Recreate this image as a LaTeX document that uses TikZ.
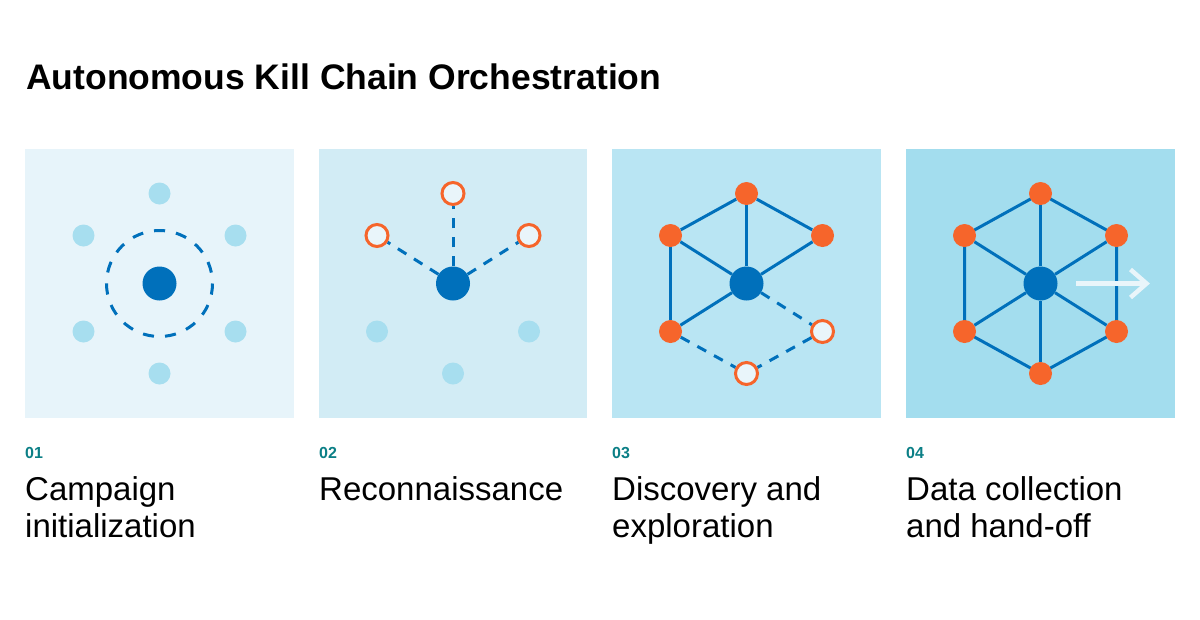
\documentclass[tikz,border=0pt]{standalone}
\usepackage{fontspec}
\setmainfont{Liberation Sans}
\definecolor{dblue}{HTML}{0070BB}
\definecolor{orng}{HTML}{F6652B}
\definecolor{ldot}{HTML}{A7DEEF}
\definecolor{ofill}{HTML}{E9F5FA}
\definecolor{tealnum}{HTML}{0B7F86}
\definecolor{bgA}{HTML}{E7F4FA}
\definecolor{bgB}{HTML}{D2ECF5}
\definecolor{bgC}{HTML}{B9E5F3}
\definecolor{bgD}{HTML}{A3DDEE}
\pgfdeclarelayer{bg}
\pgfdeclarelayer{edges}
\pgfsetlayers{bg,edges,main}
\begin{document}
\begin{tikzpicture}[x=1pt,y=-1pt,
  hub/.style={circle, fill=dblue, inner sep=0pt, minimum size=34pt},
  ghost/.style={circle, fill=ldot, inner sep=0pt, minimum size=22pt},
  hot/.style={circle, fill=orng, inner sep=0pt, minimum size=23pt},
  probe/.style={circle, draw=orng, line width=3pt, fill=ofill, inner sep=0pt, minimum size=22pt},
  link/.style={draw=dblue, line width=3pt},
  scan/.style={draw=dblue, line width=3pt, dash pattern=on 10pt off 9pt},
  ring/.style={draw=dblue, line width=3pt, dash pattern=on 11.1pt off 11.1pt},
  handoff/.style={draw=ofill, line width=4.5pt, miter limit=10},
  titletext/.style={anchor=base west, inner sep=0pt, font=\bfseries\fontsize{35.5}{40}\selectfont},
  numtext/.style={anchor=base west, inner sep=0pt, text=tealnum, font=\bfseries\fontsize{16}{18}\selectfont},
  labtext/.style={anchor=base west, inner sep=0pt, font=\fontsize{33}{38}\selectfont}
]
\useasboundingbox (0,0) rectangle (1200,619);

% background and panels
\begin{pgfonlayer}{bg}
  \fill[white] (0,0) rectangle (1200,619);
  \fill[bgA] (25,149) rectangle (294,418);
  \fill[bgB] (319,149) rectangle (587,418);
  \fill[bgC] (612,149) rectangle (881,418);
  \fill[bgD] (906,149) rectangle (1175,418);
\end{pgfonlayer}

% title
\node[titletext] (title) at (26,89) {Autonomous Kill Chain Orchestration};

% ---------- panel 1 ----------
\begin{scope}[shift={(159.5,283.5)}]
  \node[ghost] (p1t) at (0,-90) {};
  \node[ghost] (p1ul) at (-76,-48) {};
  \node[ghost] (p1ur) at (76,-48) {};
  \node[ghost] (p1ll) at (-76,48) {};
  \node[ghost] (p1lr) at (76,48) {};
  \node[ghost] (p1b) at (0,90) {};
  \node[hub] (p1c) at (0,0) {};
  \draw[ring] (p1c.center) circle[radius=53];
\end{scope}

% ---------- panel 2 ----------
\begin{scope}[shift={(453,283.5)}]
  \node[probe] (p2t) at (0,-90) {};
  \node[probe] (p2ul) at (-76,-48) {};
  \node[probe] (p2ur) at (76,-48) {};
  \node[ghost] (p2ll) at (-76,48) {};
  \node[ghost] (p2lr) at (76,48) {};
  \node[ghost] (p2b) at (0,90) {};
  \node[hub] (p2c) at (0,0) {};
\end{scope}
\begin{pgfonlayer}{edges}
  \draw[scan] (p2c) -- (p2t);
  \draw[scan] (p2c) -- (p2ul);
  \draw[scan] (p2c) -- (p2ur);
\end{pgfonlayer}

% ---------- panel 3 ----------
\begin{scope}[shift={(746.5,283.5)}]
  \node[hot] (p3t) at (0,-90) {};
  \node[hot] (p3ul) at (-76,-48) {};
  \node[hot] (p3ur) at (76,-48) {};
  \node[hot] (p3ll) at (-76,48) {};
  \node[probe] (p3lr) at (76,48) {};
  \node[probe] (p3b) at (0,90) {};
  \node[hub] (p3c) at (0,0) {};
\end{scope}
\begin{pgfonlayer}{edges}
  \draw[link] (p3ul) -- (p3t) -- (p3ur);
  \draw[link] (p3ul) -- (p3ll);
  \draw[link] (p3c) -- (p3t);
  \draw[link] (p3c) -- (p3ul);
  \draw[link] (p3c) -- (p3ur);
  \draw[link] (p3c) -- (p3ll);
  \draw[scan] (p3c) -- (p3lr);
  \draw[scan] (p3ll) -- (p3b);
  \draw[scan] (p3lr) -- (p3b);
\end{pgfonlayer}

% ---------- panel 4 ----------
\begin{scope}[shift={(1040.5,283.5)}]
  \node[hot] (p4t) at (0,-90) {};
  \node[hot] (p4ul) at (-76,-48) {};
  \node[hot] (p4ur) at (76,-48) {};
  \node[hot] (p4ll) at (-76,48) {};
  \node[hot] (p4lr) at (76,48) {};
  \node[hot] (p4b) at (0,90) {};
  \node[hub] (p4c) at (0,0) {};
  \coordinate (a0) at (35.5,0);
  \coordinate (a1) at (106,0);
  \coordinate (aU) at (90,-14);
  \coordinate (aD) at (90,14);
\end{scope}
\begin{pgfonlayer}{edges}
  \draw[link] (p4t.center) -- (p4ur.center) -- (p4lr.center) -- (p4b.center) -- (p4ll.center) -- (p4ul.center) -- cycle;
  \draw[link] (p4c) -- (p4t);
  \draw[link] (p4c) -- (p4ur);
  \draw[link] (p4c) -- (p4lr);
  \draw[link] (p4c) -- (p4b);
  \draw[link] (p4c) -- (p4ll);
  \draw[link] (p4c) -- (p4ul);
\end{pgfonlayer}
\draw[handoff] (a0) -- (a1);
\draw[handoff] (aU) -- (a1) -- (aD);

% ---------- labels ----------
\node[numtext] (n1) at (25,458) {01};
\node[labtext] (l1a) at (25,500) {Campaign};
\node[labtext] (l1b) at (25,537) {initialization};

\node[numtext] (n2) at (319,458) {02};
\node[labtext] (l2a) at (319,500) {Reconnaissance};

\node[numtext] (n3) at (612,458) {03};
\node[labtext] (l3a) at (612,500) {Discovery and};
\node[labtext] (l3b) at (612,537) {exploration};

\node[numtext] (n4) at (906,458) {04};
\node[labtext] (l4a) at (906,500) {Data collection};
\node[labtext] (l4b) at (906,537) {and hand-off};
\end{tikzpicture}
\end{document}
